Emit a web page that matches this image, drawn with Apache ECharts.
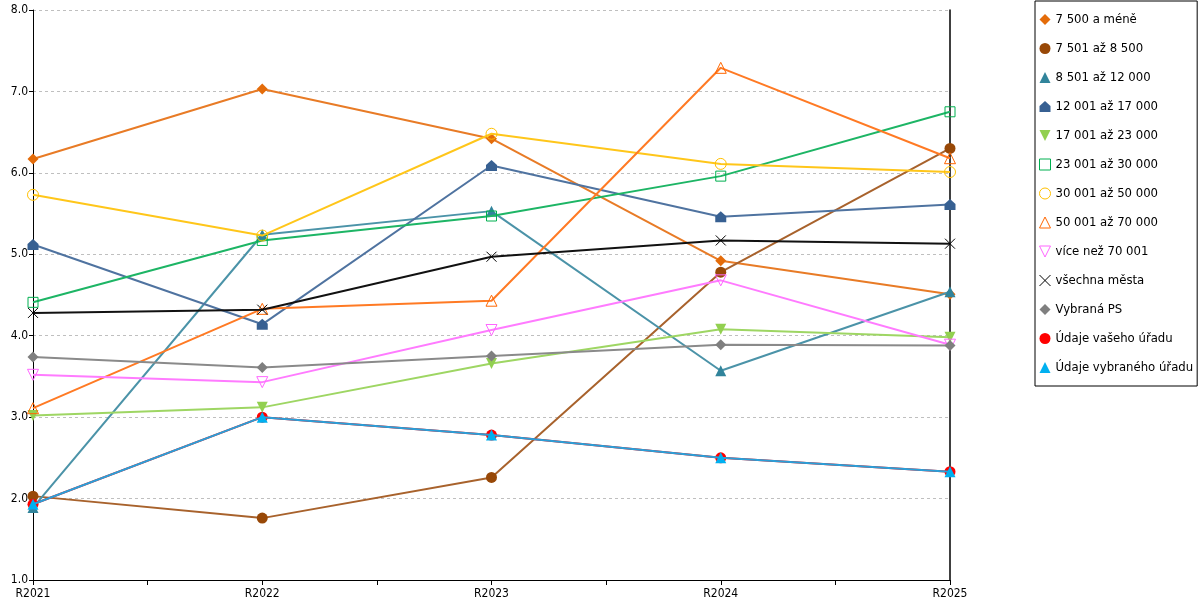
<!DOCTYPE html>
<html>
<head>
<meta charset="utf-8">
<script src="https://cdn.jsdelivr.net/npm/echarts@6/dist/echarts.min.js"></script>
<style>
  html, body { margin: 0; padding: 0; background: #fff; }
  #chart { width: 1200px; height: 600px; }
</style>
</head>
<body>
<div id="chart"></div>
<script>
// categories
const years = ['R2021', 'R2022', 'R2023', 'R2024', 'R2025'];

// series values
const s7500 = [6.17, 7.03, 6.42, 4.92, 4.51];
const s8500 = [2.03, 1.76, 2.26, 4.78, 6.30];
const s12000 = [1.89, 5.24, 5.53, 3.57, 4.54];
const s17000 = [5.12, 4.14, 6.09, 5.46, 5.61];
const s23000 = [3.02, 3.12, 3.66, 4.08, 3.98];
const s30000 = [4.41, 5.17, 5.47, 5.96, 6.75];
const s50000 = [5.73, 5.23, 6.48, 6.11, 6.01];
const s70000 = [3.11, 4.33, 4.43, 7.29, 6.18];
const sOver70 = [3.52, 3.43, 4.07, 4.68, 3.89];
const sAll = [4.28, 4.32, 4.97, 5.17, 5.13];
const sPS = [3.74, 3.61, 3.75, 3.89, 3.88];
const sVas = [1.93, 3.00, 2.78, 2.50, 2.33];
const sVybr = [1.93, 3.00, 2.78, 2.50, 2.33];

const names = [
  '7 500 a méně', '7 501 až 8 500', '8 501 až 12 000', '12 001 až 17 000',
  '17 001 až 23 000', '23 001 až 30 000', '30 001 až 50 000', '50 001 až 70 000',
  'více než 70 001', 'všechna města', 'Vybraná PS', 'Údaje vašeho úřadu', 'Údaje vybraného úřadu'
];
const values = [s7500, s8500, s12000, s17000, s23000, s30000, s50000, s70000, sOver70, sAll, sPS, sVas, sVybr];

// shapes
const DIAMOND = 'path://M5,0L10,5L5,10L0,5Z';
const HOUSE = 'path://M5,0L10,4.5L10,10L0,10L0,4.5Z';
const TRI = 'path://M5,0L10,10L0,10Z';
const TRI_DOWN = 'path://M0,0L10,0L5,10Z';
const SQUARE = 'path://M0,0L10,0L10,10L0,10Z';
const CROSS = 'path://M0,0L10,10M10,0L0,10';

// look of each series: [colour, line colour, symbol, size, empty]
const looks = [
  ['#E46C0A', '#E87B26', DIAMOND, 11, false],
  ['#984807', '#A8622C', 'circle', 11, false],
  ['#31849B', '#4B93A8', TRI, 11, false],
  ['#376092', '#4F73A0', HOUSE, 11, false],
  ['#92D050', '#9ED663', TRI_DOWN, 11, false],
  ['#00B050', '#1DB565', SQUARE, 10, true],
  ['#FFC000', '#FFC61A', 'circle', 11, true],
  ['#FF6600', '#FF7A24', TRI, 11, true],
  ['#FF66FF', '#FF7BFF', TRI_DOWN, 11, true],
  ['#000000', '#111111', CROSS, 10, 'cross'],
  ['#7F7F7F', '#8A8A8A', DIAMOND, 11, false],
  ['#FF0000', '#FF0000', 'circle', 11, false],
  ['#00B0F0', '#2A9FD8', TRI, 11, false]
];

const font = '"DejaVu Sans Condensed", "DejaVu Sans", sans-serif';

function markStyle(look) {
  const [c, , , , empty] = look;
  if (empty === 'cross') return { color: 'rgba(0,0,0,0)', borderColor: c, borderWidth: 1 };
  if (empty) return { color: 'rgba(255,255,255,0)', borderColor: c, borderWidth: 1 };
  return { color: c, borderWidth: 0 };
}

const series = names.map((name, i) => {
  const look = looks[i];
  return {
    name,
    type: 'line',
    data: values[i].map((v, k) => [k, v]),
    symbol: look[2],
    symbolSize: look[3],
    showSymbol: true,
    lineStyle: { color: look[1], width: 2 },
    itemStyle: markStyle(look),
    emphasis: { disabled: true },
    z: 2 + i
  };
});

const chart = echarts.init(document.getElementById('chart'), null, { renderer: 'canvas' });
chart.setOption({
  animation: false,
  backgroundColor: '#fff',
  textStyle: { fontFamily: font },
  grid: { left: 33, right: 250, top: 10, bottom: 20 },
  legend: {
    orient: 'vertical',
    left: 1035,
    top: 1,
    padding: [12, 4, 12, 4],
    itemGap: 16,
    itemWidth: 11,
    itemHeight: 11,
    borderColor: '#000',
    borderWidth: 1,
    textStyle: { fontFamily: font, fontSize: 13, color: '#000' },
    data: names.map((name, i) => ({ name, icon: looks[i][2], itemStyle: markStyle(looks[i]) }))
  },
  xAxis: {
    type: 'value',
    min: 0,
    max: 4,
    interval: 0.5,
    axisLine: { lineStyle: { color: '#000', width: 1 } },
    axisTick: { show: true, length: 5, lineStyle: { color: '#000' } },
    axisLabel: {
      color: '#000', fontSize: 12, fontFamily: font, margin: 8,
      formatter: v => (Number.isInteger(v) ? years[v] : '')
    },
    splitLine: { show: false }
  },
  yAxis: [
    {
      type: 'value',
      min: 1,
      max: 8,
      interval: 1,
      axisLine: { show: true, lineStyle: { color: '#000', width: 1 } },
      axisTick: { show: true, length: 4, lineStyle: { color: '#000' } },
      axisLabel: { color: '#000', fontSize: 12, fontFamily: font, margin: 5, formatter: v => v.toFixed(1) },
      splitLine: { show: true, lineStyle: { color: '#BFBFBF', type: [3, 3], width: 1 } }
    },
    {
      type: 'value',
      position: 'right',
      min: 1,
      max: 8,
      interval: 1,
      axisLine: { show: true, lineStyle: { color: '#000', width: 1.5 } },
      axisTick: { show: false },
      axisLabel: { show: false },
      splitLine: { show: false }
    }
  ],
  series
});
</script>
</body>
</html>
